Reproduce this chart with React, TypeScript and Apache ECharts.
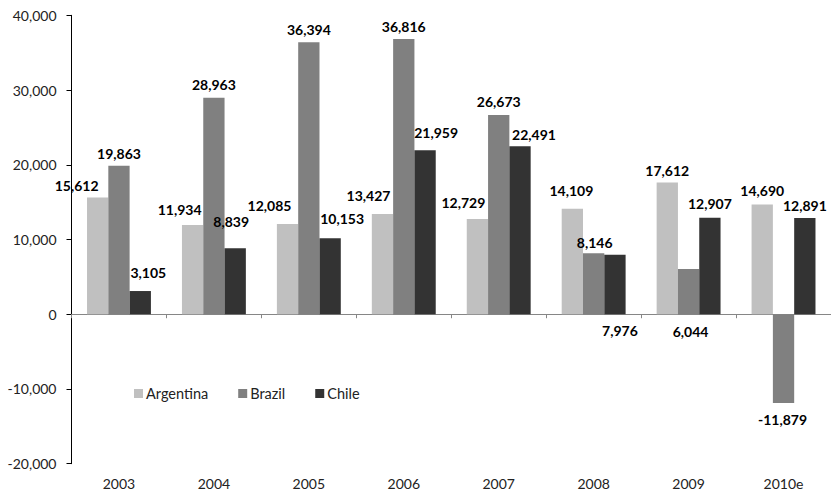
import React, { useEffect, useRef } from "react";
import * as echarts from "echarts";

// Net foreign direct investment inflows (US$ millions)
const years = ["2003", "2004", "2005", "2006", "2007", "2008", "2009", "2010e"];
const argentina = [15612, 11934, 12085, 13427, 12729, 14109, 17612, 14690];
const brazil = [19863, 28963, 36394, 36816, 26673, 8146, 6044, -11879];
const chile = [3105, 8839, 10153, 21959, 22491, 7976, 12907, 12891];

const yTicks = { min: -20000, max: 40000, interval: 10000 };

const FONT = "Lato, 'Noto Sans', sans-serif";
const fmt = (v: number) => v.toLocaleString("en-US");

type Placement = { pos?: string; dx: number; dy: number };

// hand-placed data label nudges, one per bar
const argPlace: Placement[] = [
  { dx: -21, dy: 0 }, { dx: -13, dy: -4 }, { dx: -18, dy: -6 }, { dx: -14, dy: -6 },
  { dx: -14, dy: -5 }, { dx: -1, dy: -6 }, { dx: 0, dy: 0 }, { dx: 0, dy: -2 },
];
const braPlace: Placement[] = [
  { dx: 0, dy: 0 }, { dx: 0, dy: -1 }, { dx: 0, dy: -1 }, { dx: 0, dy: -1 },
  { dx: 0, dy: -1 }, { dx: 1, dy: 1 }, { pos: "bottom", dx: 2, dy: 5 }, { pos: "bottom", dx: -1, dy: 4 },
];
const chiPlace: Placement[] = [
  { dx: 8, dy: -7 }, { dx: -4, dy: -15 }, { dx: 12, dy: -8 }, { dx: 11, dy: -6 },
  { dx: 14, dy: 0 }, { pos: "bottom", dx: 5, dy: 4 }, { dx: 0, dy: -2 }, { dx: 0, dy: 0 },
];

const buildData = (values: number[], place: Placement[]) =>
  values.map((v, i) => ({
    value: v,
    label: {
      position: place[i].pos ?? "top",
      offset: [place[i].dx, place[i].dy],
    },
  }));

export default function App() {
  const ref = useRef<HTMLDivElement>(null);

  useEffect(() => {
    if (!ref.current) return;
    const chart = echarts.init(ref.current, undefined, { renderer: "svg" });

    const barLabel = {
      show: true,
      distance: 5,
      color: "#000",
      fontFamily: FONT,
      fontSize: 14,
      fontWeight: "bold" as const,
      formatter: (p: any) => fmt(p.value),
    };

    const mk = (name: string, values: number[], place: Placement[], color: string) => ({
      name,
      type: "bar",
      xAxisIndex: 0,
      barWidth: 21.3,
      barGap: "0%",
      itemStyle: { color },
      label: barLabel,
      data: buildData(values, place),
    });

    chart.setOption({
      animation: false,
      backgroundColor: "#fff",
      grid: { left: 71.5, right: -5, top: 15.3, bottom: 30.3, containLabel: false },
      legend: {
        left: 134,
        top: 386,
        padding: 0,
        icon: "rect",
        itemWidth: 9,
        itemHeight: 9,
        itemGap: 30,
        textStyle: { fontFamily: FONT, fontSize: 14.5, color: "#222", padding: [0, 0, 0, -2] },
        data: ["Argentina", "Brazil", "Chile"],
      },
      xAxis: [
        {
          type: "category",
          data: years,
          position: "bottom",
          axisLine: { show: false, onZero: false },
          axisTick: { show: false },
          axisLabel: { margin: 13, fontFamily: FONT, fontSize: 14, color: "#222" },
        },
        {
          type: "category",
          data: years,
          position: "top",
          axisLine: { show: true, onZero: true, lineStyle: { color: "#868686", width: 1 } },
          axisTick: { show: true, inside: true, length: 4, lineStyle: { color: "#868686" } },
          axisLabel: { show: false },
        },
      ],
      yAxis: {
        type: "value",
        min: yTicks.min,
        max: yTicks.max,
        interval: yTicks.interval,
        axisLine: { show: true, lineStyle: { color: "#000", width: 1 } },
        axisTick: { show: true, length: 5, lineStyle: { color: "#000" } },
        splitLine: { show: false },
        axisLabel: {
          margin: 15,
          fontFamily: FONT,
          fontSize: 14,
          color: "#222",
          formatter: (v: number) => fmt(v),
        },
      },
      series: [
        mk("Argentina", argentina, argPlace, "#c0c0c0"),
        mk("Brazil", brazil, braPlace, "#808080"),
        mk("Chile", chile, chiPlace, "#333333"),
      ],
    });

    return () => chart.dispose();
  }, []);

  return (
    <div
      ref={ref}
      style={{ position: "fixed", left: 0, top: 0, width: 831, height: 494 }}
    />
  );
}
